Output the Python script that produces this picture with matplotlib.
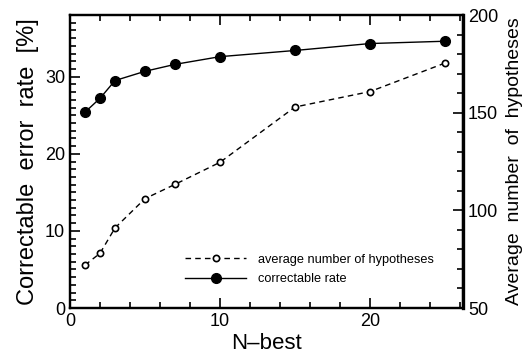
import matplotlib
matplotlib.use("Agg")
import matplotlib.pyplot as plt
from matplotlib.ticker import MultipleLocator

plt.rcParams['font.family'] = ['Liberation Sans', 'DejaVu Sans']

n_best = [1, 2, 3, 5, 7, 10, 15, 20, 25]
correctable_rate = [25.4, 27.2, 29.5, 30.7, 31.6, 32.6, 33.4, 34.3, 34.6]
avg_hypotheses = [72, 78, 91, 106, 113.3, 124.6, 152.9, 160.8, 175.4]

fig = plt.figure(figsize=(5.32, 3.61), dpi=100)
ax = fig.add_axes([0.1316, 0.1468, 0.7387, 0.8116])
ax2 = ax.twinx()

ax.set_xlim(0, 26.2)
ax.set_ylim(0, 38)
ax2.set_ylim(50, 200)

l2, = ax2.plot(n_best, avg_hypotheses, color='black', ls=(0, (4, 3)), lw=1.0,
               marker='o', ms=4.5, mfc='white', mec='black', mew=1.2,
               label='average number of hypotheses')
l1, = ax.plot(n_best, correctable_rate, color='black', ls='-', lw=1.0,
              marker='o', ms=7, mfc='black', mec='black',
              label='correctable rate')

ax.xaxis.set_major_locator(MultipleLocator(10))
ax.xaxis.set_minor_locator(MultipleLocator(2))
ax.yaxis.set_major_locator(MultipleLocator(10))
ax.yaxis.set_minor_locator(MultipleLocator(1))
ax2.yaxis.set_major_locator(MultipleLocator(50))
ax2.yaxis.set_minor_locator(MultipleLocator(10))

ax.tick_params(which='both', direction='in', top=True, right=False, width=1.2, labelsize=13)
ax.tick_params(which='major', length=7)
ax.tick_params(which='minor', length=4)
ax2.tick_params(which='both', direction='in', width=1.2, labelsize=13)
ax2.tick_params(which='major', length=7)
ax2.tick_params(which='minor', length=4)

for a in (ax, ax2):
    for s in a.spines.values():
        s.set_linewidth(1.6)
ax2.spines['right'].set_linewidth(2.4)

ax.set_xlabel('N\u2013best', fontsize=16, labelpad=2)
ax.set_ylabel('Correctable  error  rate  [%]', fontsize=17, labelpad=4)
ax2.set_ylabel('Average  number  of  hypotheses', fontsize=14, labelpad=6)

leg = ax.legend(handles=[l2, l1], loc='lower left', bbox_to_anchor=(0.28, 0.06),
                frameon=False, fontsize=9.2, handlelength=4.8, handletextpad=0.9,
                labelspacing=0.6, borderaxespad=0)

fig.savefig('out.png', dpi=100)
